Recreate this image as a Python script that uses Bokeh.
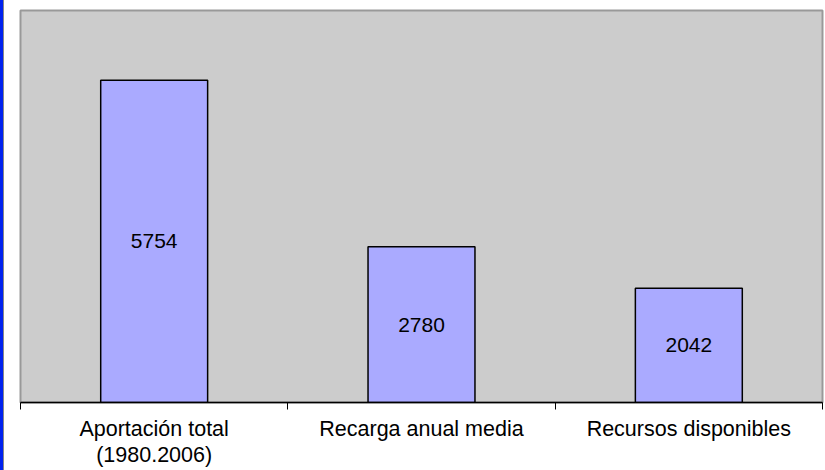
from bokeh.plotting import figure
from bokeh.models import Range1d, FixedTicker, ColumnDataSource, Div
from bokeh.layouts import row
from bokeh.core.properties import value
from bokeh.embed import file_html
from bokeh.resources import INLINE

# Water balance figures (hm3)
categories = ["Aportación total\n(1980.2006)", "Recarga anual media", "Recursos disponibles"]
amounts = [5754, 2780, 2042]
y_max = 7000

centers = [i + 0.5 for i in range(len(categories))]
src = ColumnDataSource(dict(
    x=centers,
    top=amounts,
    mid=[a / 2 for a in amounts],
    label=[str(a) for a in amounts],
))

p = figure(width=821, height=470, output_backend="svg", toolbar_location=None,
           x_range=Range1d(0, len(categories)), y_range=Range1d(0, y_max),
           y_axis_location=None, min_border_left=16, min_border_right=3,
           min_border_top=10, min_border_bottom=0, margin=(0, 0, 0, 0))

p.background_fill_color = "#CCCCCC"
p.border_fill_color = "white"
p.outline_line_color = "#999999"
p.outline_line_width = 2
p.grid.visible = False

p.vbar(x="x", top="top", bottom=0, width=0.4, source=src,
       fill_color="#AAAAFF", line_color="black", line_width=1.5)

p.text(x="x", y="mid", text="label", source=src,
       text_align="center", text_baseline="middle",
       text_font=value("Liberation Sans"), text_font_size="21px",
       text_color="black")

# names sit between the boundary ticks (minor ticks at the category edges)
ax = p.xaxis[0]
ax.ticker = FixedTicker(ticks=centers, minor_ticks=list(range(len(categories) + 1)))
ax.major_label_overrides = {c: lab for c, lab in zip(centers, categories)}
ax.major_tick_line_color = None
ax.major_tick_out = 0
ax.major_tick_in = 0
ax.minor_tick_line_color = "black"
ax.minor_tick_out = 7
ax.minor_tick_in = 0
ax.axis_line_color = "black"
ax.axis_line_width = 1.5
ax.major_label_standoff = 7
ax.major_label_text_font = "Liberation Sans"
ax.major_label_text_font_size = "21.5px"
ax.major_label_text_line_height = 1.12
ax.major_label_text_color = "black"

stripe = Div(width=4, height=470, margin=(0, 0, 0, 0),
             styles={"background-color": "#0022EE", "border-right": "1px solid #888888",
                     "box-sizing": "border-box"})
layout = row(stripe, p, spacing=0)

open("out.html", "w").write(file_html(layout, INLINE))
